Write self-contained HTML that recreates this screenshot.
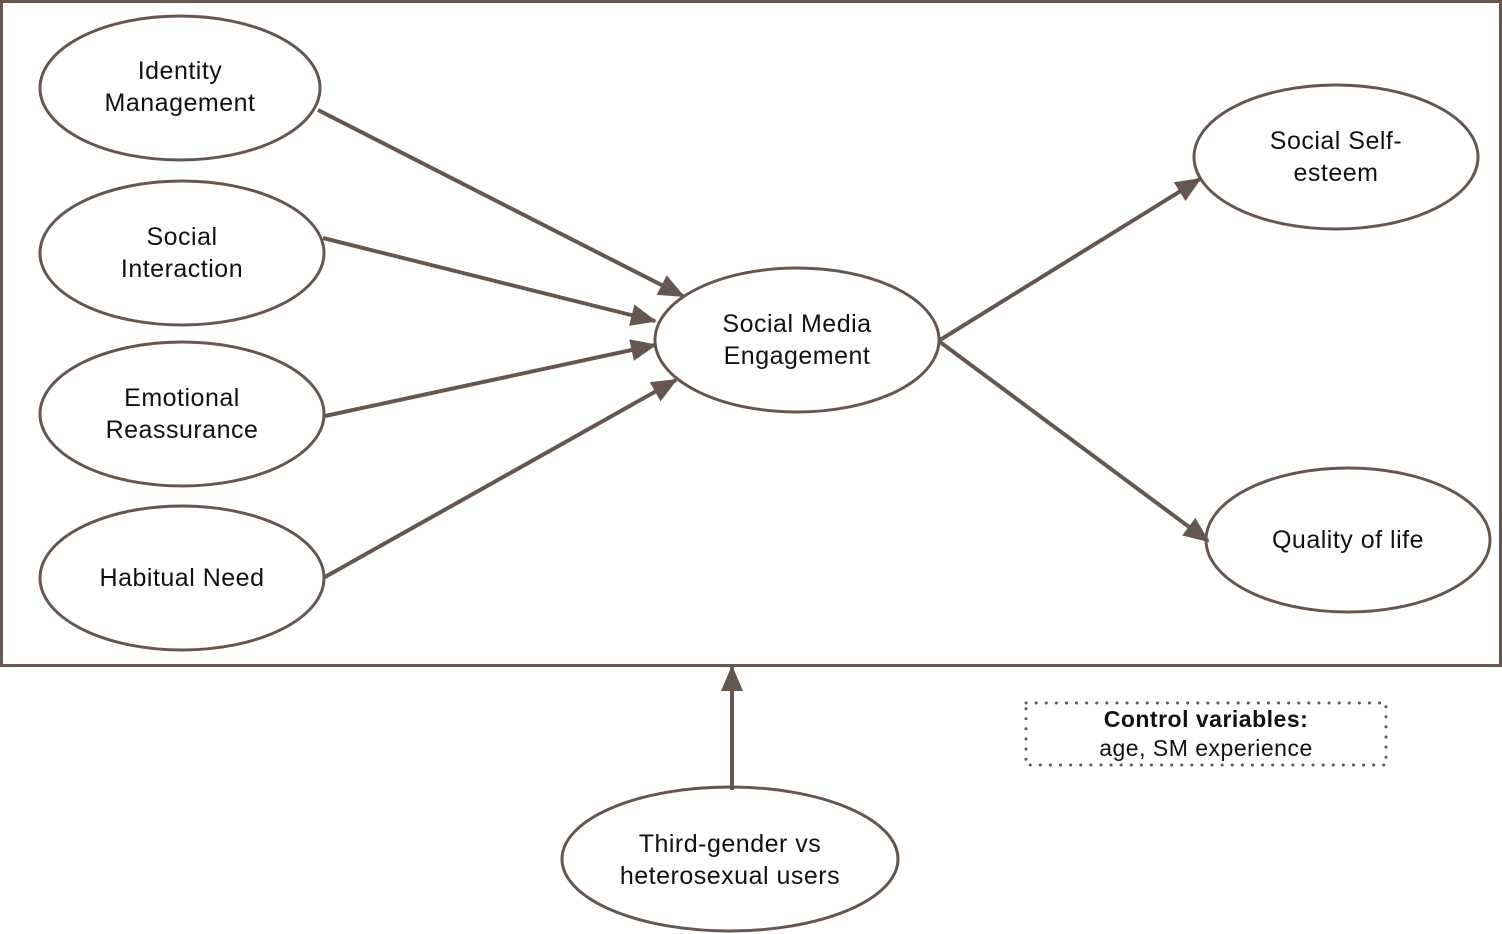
<!DOCTYPE html>
<html><head><meta charset="utf-8"><style>
html,body{margin:0;padding:0;background:#fff;}
svg{display:block;}
text{font-family:"Liberation Sans",sans-serif;font-size:25px;fill:#111;text-anchor:middle;letter-spacing:0.5px;}
</style></head><body>
<svg width="1502" height="934" viewBox="0 0 1502 934" xmlns="http://www.w3.org/2000/svg">
<defs>
<marker id="a" markerWidth="10" markerHeight="10" refX="8" refY="5" orient="auto" markerUnits="userSpaceOnUse" viewBox="0 0 10 10">
<path d="M0,0 L10,5 L0,10 z" fill="#65574f"/>
</marker>
<marker id="b" markerWidth="26" markerHeight="26" refX="24" refY="13" orient="auto" markerUnits="userSpaceOnUse">
<path d="M0,2 L26,13 L0,24 z" fill="#65574f"/>
</marker>
</defs>
<rect x="1.5" y="1.5" width="1499" height="664" fill="none" stroke="#65574f" stroke-width="3"/>
<g fill="#fff" stroke="#65574f" stroke-width="3">
<ellipse cx="180" cy="88" rx="140" ry="72"/>
<ellipse cx="182" cy="253" rx="142" ry="72"/>
<ellipse cx="182" cy="414" rx="142" ry="72"/>
<ellipse cx="182" cy="578" rx="142" ry="72"/>
<ellipse cx="797" cy="340" rx="142" ry="72"/>
<ellipse cx="1336" cy="157" rx="142" ry="72"/>
<ellipse cx="1348" cy="540" rx="142" ry="72"/>
<ellipse cx="730" cy="859" rx="168" ry="72"/>
</g>
<g stroke="#65574f" stroke-width="4" fill="none" marker-end="url(#b)">
<line x1="318" y1="110" x2="683" y2="296"/>
<line x1="323" y1="238" x2="655" y2="321"/>
<line x1="325" y1="416" x2="655" y2="345"/>
<line x1="325" y1="577" x2="676" y2="380"/>
<line x1="940" y1="340" x2="1200" y2="179"/>
<line x1="940" y1="342" x2="1208" y2="541"/>
<line x1="732" y1="790" x2="732" y2="667"/>
</g>
<rect x="1026" y="703" width="360" height="62" fill="none" stroke="#65574f" stroke-width="3" stroke-dasharray="0.1 10" stroke-linecap="round"/>
<text x="180" y="79">Identity</text>
<text x="180" y="111">Management</text>
<text x="182" y="245">Social</text>
<text x="182" y="277">Interaction</text>
<text x="182" y="406">Emotional</text>
<text x="182" y="438">Reassurance</text>
<text x="182" y="586">Habitual Need</text>
<text x="797" y="332">Social Media</text>
<text x="797" y="364">Engagement</text>
<text x="1336" y="149">Social Self-</text>
<text x="1336" y="181">esteem</text>
<text x="1348" y="548">Quality of life</text>
<text x="730" y="852">Third-gender vs</text>
<text x="730" y="884">heterosexual users</text>
<text x="1206" y="727" style="font-weight:bold;font-size:23px">Control variables:</text>
<text x="1206" y="756" style="font-size:23px">age, SM experience</text>
</svg>
</body></html>
